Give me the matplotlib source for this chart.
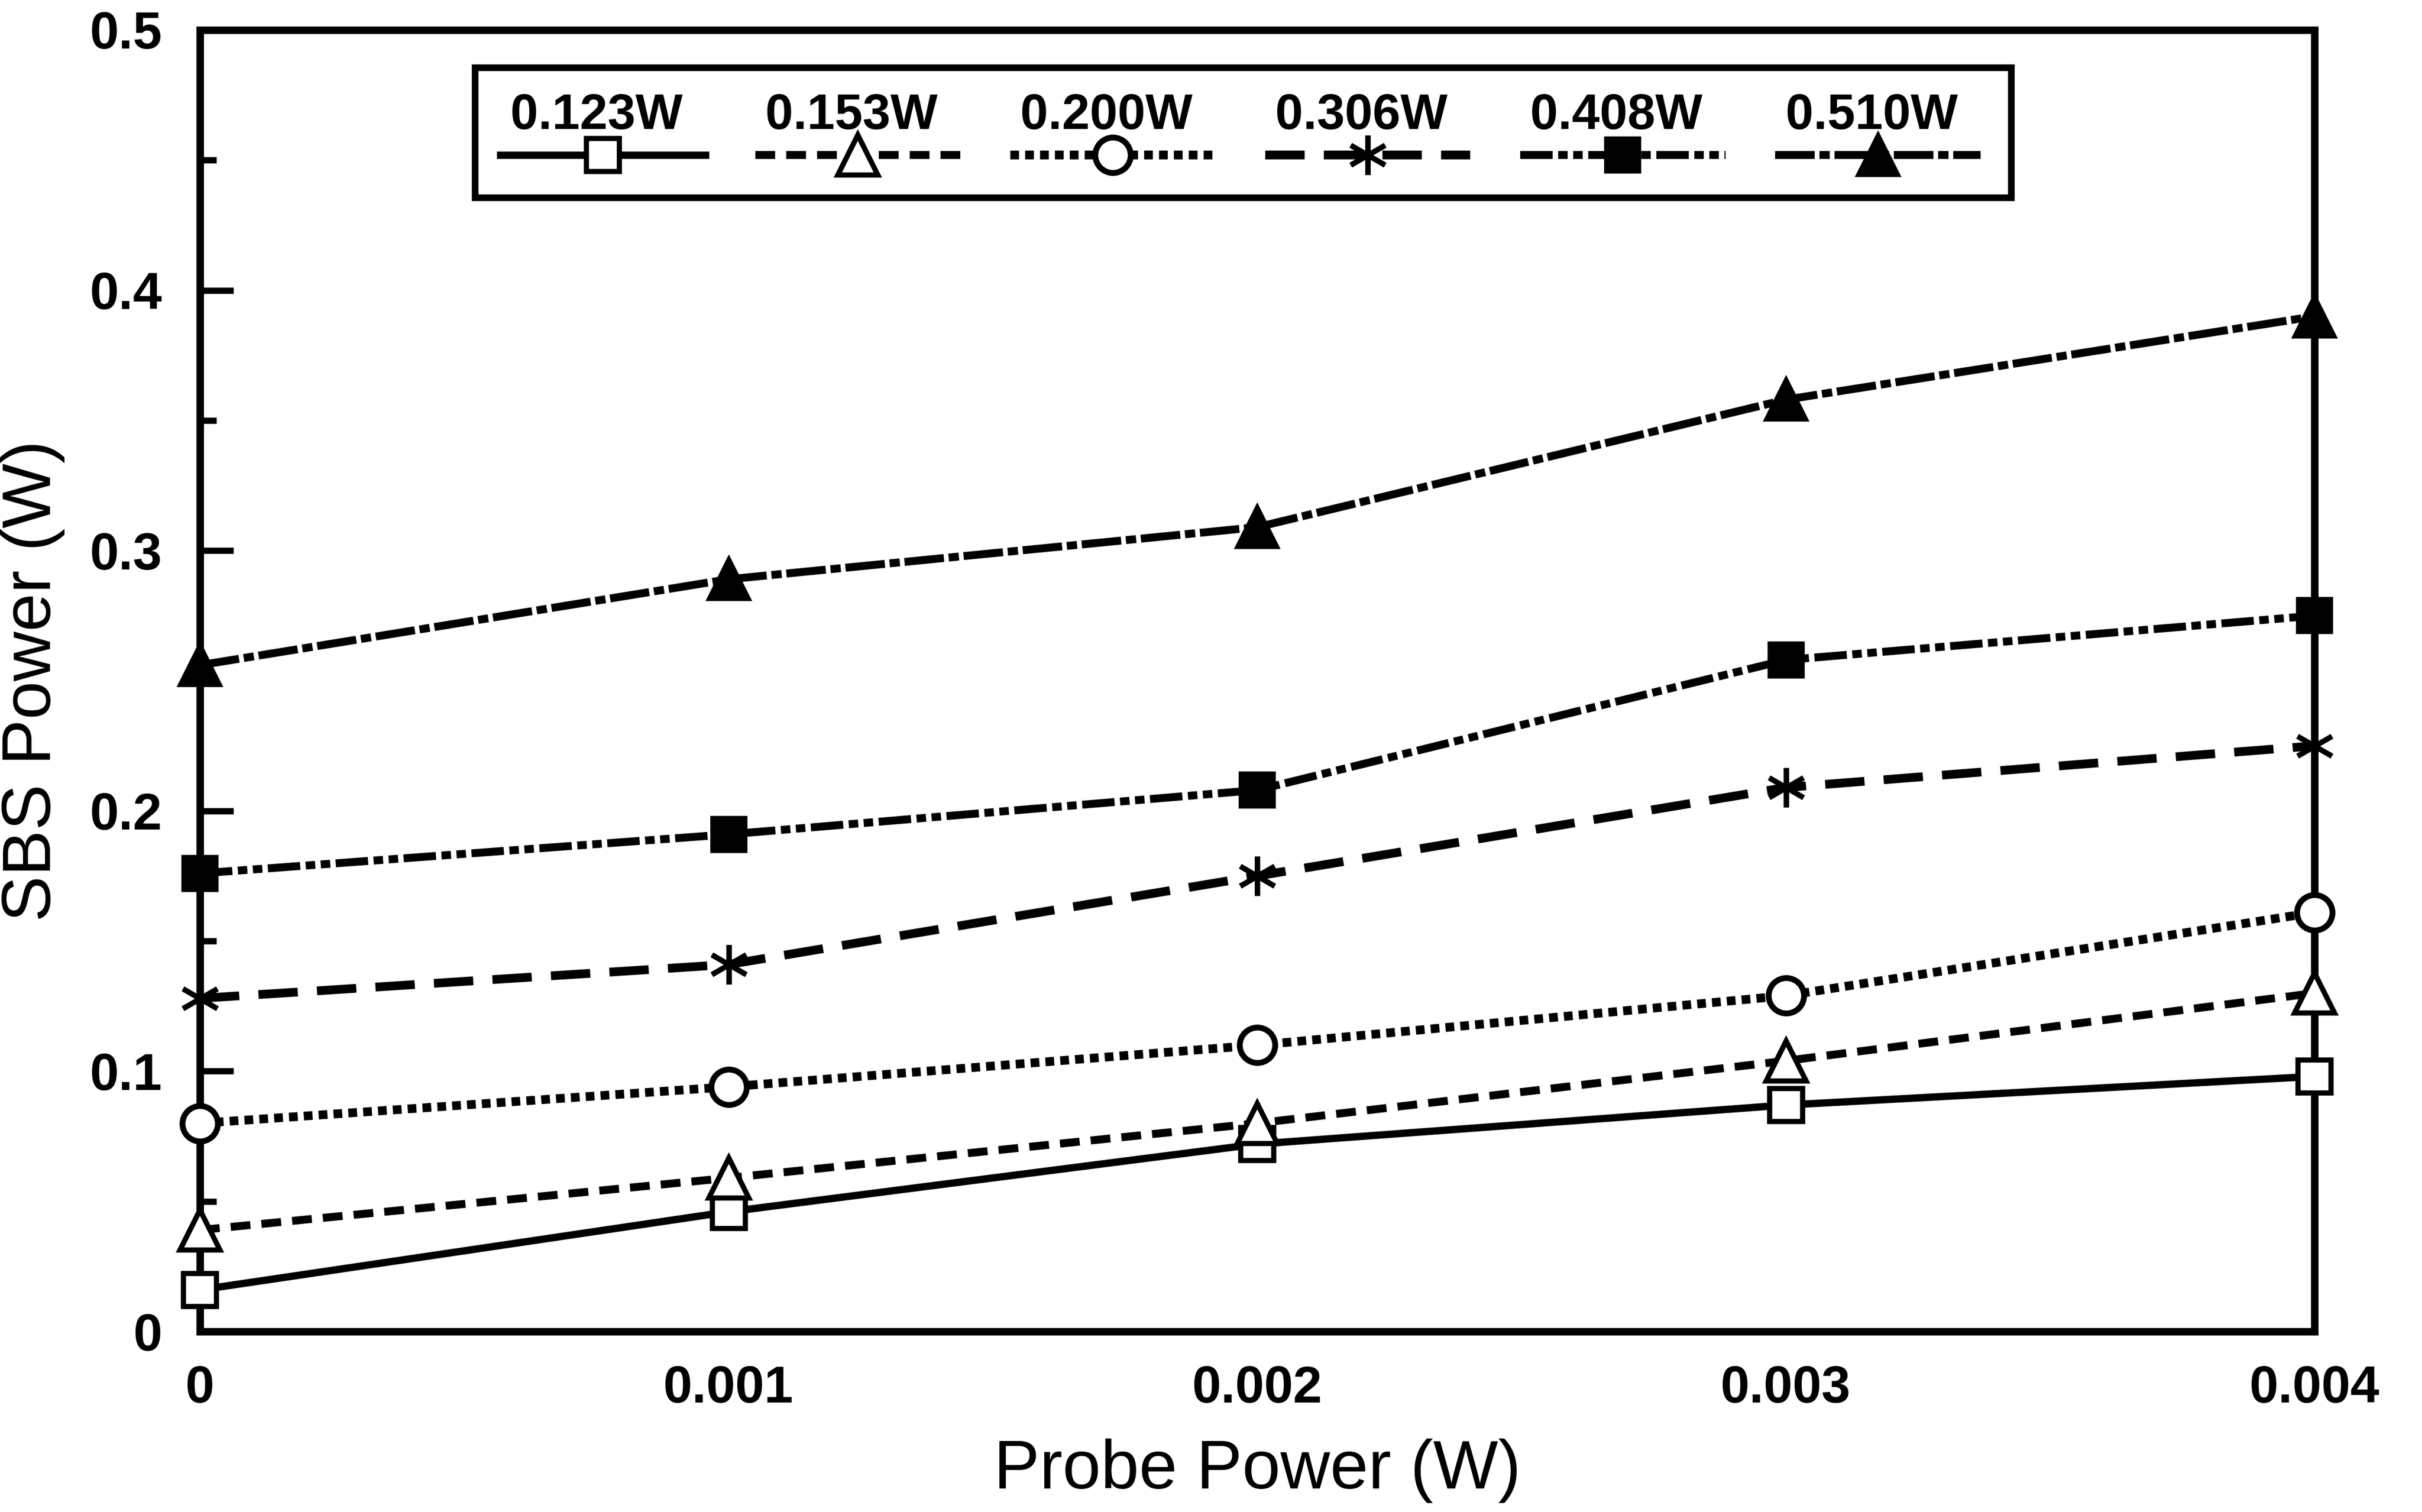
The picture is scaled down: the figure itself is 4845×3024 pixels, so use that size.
import matplotlib
matplotlib.use("Agg")
import matplotlib.pyplot as plt
from matplotlib.lines import Line2D
from matplotlib.patches import Rectangle
from matplotlib.ticker import MultipleLocator

plt.rcParams['font.family'] = ['Liberation Sans', 'DejaVu Sans']

# ---- data ----
probe_power = [0.0, 0.001, 0.002, 0.003, 0.004]
series_labels = ["0.123W", "0.153W", "0.200W", "0.306W", "0.408W", "0.510W"]
sbs_0123 = [0.016, 0.046, 0.072, 0.087, 0.098]
sbs_0153 = [0.039, 0.059, 0.080, 0.104, 0.130]
sbs_0200 = [0.080, 0.094, 0.110, 0.129, 0.161]
sbs_0306 = [0.128, 0.141, 0.175, 0.209, 0.225]
sbs_0408 = [0.176, 0.191, 0.208, 0.258, 0.275]
sbs_0510 = [0.256, 0.289, 0.309, 0.358, 0.390]
x_ticks = [0, 0.001, 0.002, 0.003, 0.004]
x_ticklabels = ["0", "0.001", "0.002", "0.003", "0.004"]
y_ticks = [0, 0.1, 0.2, 0.3, 0.4, 0.5]
y_ticklabels = ["0", "0.1", "0.2", "0.3", "0.4", "0.5"]

series = [sbs_0123, sbs_0153, sbs_0200, sbs_0306, sbs_0408, sbs_0510]

styles = [
    dict(ls='-', lw=3.5, marker='s', ms=16, mfc='white', mew=2.5),
    dict(ls=(0, (2.5, 1.4)), lw=3.8, marker='^', ms=19, mfc='white', mew=2.5),
    dict(ls=(0, (1.0, 0.7)), lw=4.2, marker='o', ms=17, mfc='white', mew=2.8),
    dict(ls=(0, (4.5, 2.2)), lw=4.2, marker=(6, 2, 0), ms=19, mfc='black', mew=2.5),
    dict(ls=(0, (4.1, 0.7, 1.2, 0.7, 1.2, 0.7)), lw=3.8, marker='s', ms=16, mfc='black', mew=2.0),
    dict(ls=(0, (5.0, 0.6, 1.3, 0.6)), lw=3.8, marker='^', ms=19, mfc='black', mew=2.0),
]

W, H = 4845, 3024
fig = plt.figure(figsize=(W / 300, H / 300), dpi=300)
ax = fig.add_axes([400 / W, 1 - 2663 / H, 4230 / W, 2603 / H])

for ys, st in zip(series, styles):
    ax.plot(probe_power, ys, color='black', linestyle=st['ls'], linewidth=st['lw'],
            marker=st['marker'], markersize=st['ms'], markerfacecolor=st['mfc'],
            markeredgecolor='black', markeredgewidth=st['mew'], clip_on=False, zorder=3)

ax.set_xlim(0, 0.004)
ax.set_ylim(0, 0.5)
ax.set_xticks(x_ticks)
ax.set_xticklabels(x_ticklabels, fontsize=25, fontweight='bold')
ax.set_yticks(y_ticks)
ax.set_yticklabels(y_ticklabels, fontsize=25, fontweight='bold')
ax.yaxis.set_minor_locator(MultipleLocator(0.05))
ax.tick_params(axis='y', which='major', direction='in', length=16, width=3, pad=18)
ax.tick_params(axis='y', which='minor', direction='in', length=8, width=3)
ax.tick_params(axis='x', which='major', direction='in', length=0, pad=16)
for sp in ax.spines.values():
    sp.set_linewidth(3.6)

ax.set_xlabel("Probe Power (W)", fontsize=33, labelpad=12)
ax.set_ylabel("SBS Power (W)", fontsize=33, labelpad=12)

# ---- legend (labels above keys, as in the original) ----
box = Rectangle((0.130, 0.8713), 0.8565 - 0.130, 0.9712 - 0.8713, transform=ax.transAxes,
                facecolor='white', edgecolor='black', linewidth=3.2, zorder=5)
ax.add_patch(box)
x0 = 0.1905
dx = 0.1206
half = 0.0485
for i, (lab, st) in enumerate(zip(series_labels, styles)):
    xc = x0 + i * dx
    ln = Line2D([xc - half, xc, xc + half], [0.904, 0.904, 0.904], transform=ax.transAxes,
                color='black', linestyle=st['ls'], linewidth=st['lw'],
                marker=st['marker'], markersize=st['ms'], markerfacecolor=st['mfc'],
                markeredgecolor='black', markeredgewidth=st['mew'], markevery=[1],
                zorder=6, clip_on=False)
    ax.add_line(ln)
    ax.text(xc - 0.003, 0.934, lab, transform=ax.transAxes, ha='center', va='center',
            fontsize=24, fontweight='bold', zorder=6)

fig.savefig("out.png", dpi=300)
